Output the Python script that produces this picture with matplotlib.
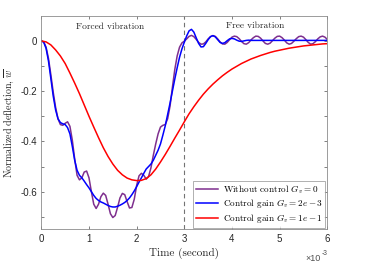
import numpy as np
import matplotlib
matplotlib.use("Agg")
import matplotlib.pyplot as plt
from matplotlib.ticker import MultipleLocator, FixedLocator

plt.rcParams['mathtext.fontset'] = 'cm'
plt.rcParams['axes.unicode_minus'] = False

# time grid (ms) for the two forced-response curves
t_fine = np.round(np.arange(0, 6.001, 0.05), 2)

# without control, Gv = 0 (purple)
w_none = [
    0.000, -0.004, -0.025, -0.070, -0.135, -0.205, -0.265, -0.310, -0.333, -0.336,
    -0.328, -0.322, -0.340, -0.395, -0.470, -0.535, -0.553, -0.545, -0.522, -0.518,
    -0.545, -0.600, -0.650, -0.667, -0.650, -0.620, -0.606, -0.615, -0.650, -0.688,
    -0.703, -0.695, -0.662, -0.625, -0.607, -0.612, -0.640, -0.665, -0.663, -0.630,
    -0.575, -0.537, -0.527, -0.535, -0.550, -0.540, -0.505, -0.455, -0.410, -0.370,
    -0.343, -0.336, -0.333, -0.310, -0.260, -0.185, -0.114, -0.060, -0.025, -0.008,
    -0.001, 0.008, 0.018, 0.022, 0.017, 0.006, -0.006, -0.013, -0.012, -0.004,
    0.008, 0.017, 0.021, 0.018, 0.008, -0.004, -0.012, -0.013, -0.006, 0.005,
    0.015, 0.019, 0.017, 0.009, -0.002, -0.011, -0.013, -0.007, 0.004, 0.013,
    0.019, 0.018, 0.011, 0.000, -0.010, -0.013, -0.009, 0.001, 0.011, 0.018,
    0.019, 0.013, 0.003, -0.008, -0.013, -0.010, -0.001, 0.009, 0.017, 0.019,
    0.015, 0.005, -0.006, -0.013, -0.011, -0.003, 0.008, 0.016, 0.019, 0.015,
    0.006,
]

# control gain Gv = 2e-3 (blue)
w_low = [
    0.000, -0.005, -0.030, -0.080, -0.150, -0.220, -0.275, -0.310, -0.325, -0.330,
    -0.333, -0.345, -0.370, -0.420, -0.475, -0.515, -0.535, -0.545, -0.558, -0.572,
    -0.585, -0.600, -0.615, -0.627, -0.635, -0.641, -0.645, -0.650, -0.655, -0.659,
    -0.661, -0.661, -0.658, -0.654, -0.649, -0.643, -0.635, -0.625, -0.612, -0.597,
    -0.580, -0.562, -0.545, -0.527, -0.510, -0.500, -0.490, -0.475, -0.455, -0.435,
    -0.410, -0.375, -0.338, -0.293, -0.248, -0.200, -0.152, -0.107, -0.065, -0.032,
    -0.005, 0.020, 0.040, 0.046, 0.035, 0.012, -0.010, -0.024, -0.023, -0.010,
    0.005, 0.017, 0.021, 0.016, 0.005, -0.006, -0.010, -0.007, 0.001, 0.008,
    0.010, 0.008, 0.003, -0.001, -0.002, 0.000, 0.002, 0.003, 0.002, 0.002,
    0.002, 0.002, 0.002, 0.002, 0.002, 0.002, 0.002, 0.002, 0.002, 0.002,
    0.002, 0.002, 0.002, 0.002, 0.002, 0.002, 0.002, 0.002, 0.002, 0.002,
    0.002, 0.002, 0.002, 0.002, 0.002, 0.002, 0.002, 0.002, 0.002, 0.002,
    0.002,
]

# control gain Gv = 1e-1 (red), coarser grid
t_red = np.round(np.arange(0, 6.001, 0.1), 1)
w_high = [
    0.000, -0.004, -0.016, -0.036, -0.060, -0.090, -0.128, -0.168, -0.210, -0.255,
    -0.300, -0.343, -0.385, -0.425, -0.460, -0.490, -0.515, -0.533, -0.546, -0.553,
    -0.556, -0.555, -0.548, -0.533, -0.510, -0.482, -0.452, -0.420, -0.387, -0.355,
    -0.322, -0.290, -0.262, -0.236, -0.212, -0.191, -0.172, -0.155, -0.139, -0.125,
    -0.112, -0.101, -0.090, -0.081, -0.072, -0.065, -0.058, -0.052, -0.046, -0.041,
    -0.037, -0.033, -0.029, -0.026, -0.023, -0.020, -0.018, -0.016, -0.014, -0.012,
    -0.011,
]

labels = [r'Without control $G_v = 0$',
          r'Control gain $G_v = 2e-3$',
          r'Control gain $G_v = 1e-1$']
colors = ['#7E2F8E', '#0000FF', '#FF0000']

fig = plt.figure(figsize=(3.69, 2.63), dpi=100)
ax = fig.add_axes([0.112, 0.128, 0.775, 0.812])

ax.axvline(3, color='0.45', lw=0.8, ls=(0, (4, 3)))
ax.plot(t_fine, w_none, color=colors[0], lw=1.1, label=labels[0])
ax.plot(t_fine, w_low, color=colors[1], lw=1.1, label=labels[1])
ax.plot(t_red, w_high, color=colors[2], lw=1.1, label=labels[2])

ax.set_xlim(0, 6)
ax.set_ylim(-0.75, 0.1)
ax.xaxis.set_major_locator(MultipleLocator(1))
ax.yaxis.set_major_locator(FixedLocator([-0.6, -0.4, -0.2, 0]))
ax.yaxis.set_minor_locator(FixedLocator([-0.7, -0.5, -0.3, -0.1]))
ax.set_yticklabels(['-0.6', '-0.4', '-0.2', '0'])
ax.tick_params(which='both', direction='in', top=True, right=True,
               length=2.2, width=0.5, color='0.3', labelsize=7, pad=3)
for lab in ax.get_xticklabels() + ax.get_yticklabels():
    lab.set_fontfamily('Liberation Sans')
    lab.set_color('0.15')
for sp in ax.spines.values():
    sp.set_color('0.55')
    sp.set_linewidth(0.6)

ax.set_xlabel('Time (second)', fontfamily='cmr10', fontsize=8, labelpad=3, color='0.15')
ax.set_ylabel(r'Normalized deflection, $\overline{w}$', fontfamily='cmr10',
              fontsize=7.2, labelpad=3, color='0.15')

# x10^-3 multiplier, sans like the tick labels
ax.text(0.978, -0.115, '\u00d710', transform=ax.transAxes, ha='right',
        va='top', fontsize=6.5, fontfamily='Liberation Sans', color='0.3')
ax.text(0.98, -0.098, '-3', transform=ax.transAxes, ha='left',
        va='top', fontsize=4.8, fontfamily='Liberation Sans', color='0.3')

ax.text(1.45, 0.055, 'Forced vibration', fontfamily='cmr10', fontsize=6.8,
        ha='center', va='center', color='0.15')
ax.text(4.48, 0.06, 'Free vibration', fontfamily='cmr10', fontsize=6.8,
        ha='center', va='center', color='0.15')

leg = ax.legend(loc='lower right', prop={'family': 'cmr10', 'size': 6.6},
                frameon=True, fancybox=False, borderpad=0.3, labelspacing=0.15,
                handlelength=2.4, handletextpad=0.5, borderaxespad=0.2)
leg.get_frame().set_edgecolor('0.55')
leg.get_frame().set_linewidth(0.6)

fig.savefig('out.png', dpi=100)
